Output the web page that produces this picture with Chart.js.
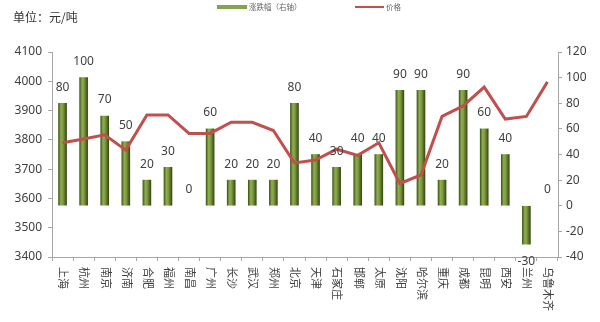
<!DOCTYPE html>
<html>
<head>
<meta charset="utf-8">
<script src="https://cdn.jsdelivr.net/npm/chart.js@4/dist/chart.umd.min.js"></script>
<style>
  html, body { margin: 0; padding: 0; background: #fff; }
  #wrap { position: relative; width: 600px; height: 322px; overflow: hidden; }
  #c { position: absolute; left: 0; top: 0; }
  .txt { position: absolute; white-space: nowrap; font-family: "Noto Sans CJK SC", "Noto Sans", sans-serif; }
  #unit { left: 13px; top: 9px; font-size: 12px; line-height: 16px; color: #333; }
  .sw { position: absolute; }
  .lg { font-size: 7.5px; line-height: 10px; color: #666; top: 2px; }
</style>
</head>
<body>
<div id="wrap">
  <canvas id="c" width="600" height="322"></canvas>
  <div id="unit" class="txt">单位：元/吨</div>
  <div class="sw" style="left:217px;top:5px;width:30px;height:4px;background:#86a24a;"></div>
  <div class="txt lg" style="left:249px;">涨跌幅（右轴）</div>
  <div class="sw" style="left:355px;top:6px;width:29px;height:2px;background:#c0504d;"></div>
  <div class="txt lg" style="left:386px;">价格</div>
</div>
<script>
const categories = ['上海','杭州','南京','济南','合肥','福州','南昌','广州','长沙','武汉','郑州','北京','天津','石家庄','邯郸','太原','沈阳','哈尔滨','重庆','成都','昆明','西安','兰州','乌鲁木齐'];
const changeValues = [80,100,70,50,20,30,0,60,20,20,20,80,40,30,40,40,90,90,20,90,60,40,-30,0];
const priceValues = [3790,3803,3817,3765,3885,3885,3822,3822,3860,3860,3832,3721,3731,3768,3747,3790,3651,3680,3880,3916,3980,3871,3880,3998];
const changeLabel = '涨跌幅（右轴）';
const priceLabel = '价格';

const TEXT = '#404040';
const AXIS = '#a6a6a6';

function barGradient(c) {
  const chart = c.chart;
  if (c.dataIndex !== undefined && changeValues[c.dataIndex] === 0) return 'rgba(0,0,0,0)';
  const xs = chart.scales && chart.scales.x;
  if (!xs || c.dataIndex === undefined) return '#76923c';
  const x = xs.getPixelForValue(c.dataIndex);
  if (!isFinite(x)) return '#76923c';
  const w = 8;
  const g = chart.ctx.createLinearGradient(x - w / 2, 0, x + w / 2, 0);
  g.addColorStop(0, '#44591a');
  g.addColorStop(0.3, '#8fae50');
  g.addColorStop(0.55, '#7e9c40');
  g.addColorStop(1, '#364a12');
  return g;
}

const valueLabels = {
  id: 'valueLabels',
  afterDatasetsDraw(chart) {
    const meta = chart.getDatasetMeta(1);
    const ctx = chart.ctx;
    ctx.save();
    ctx.font = '12px "Noto Sans", "DejaVu Sans", sans-serif';
    ctx.fillStyle = TEXT;
    ctx.textAlign = 'center';
    ctx.textBaseline = 'middle';
    meta.data.forEach((el, i) => {
      const v = changeValues[i];
      const y = v < 0 ? el.y + 17 : el.y - 16;
      ctx.fillText(String(v), el.x, y);
    });
    ctx.restore();
  }
};

const xLabels = {
  id: 'xLabels',
  afterDraw(chart) {
    const xs = chart.scales.x;
    const ctx = chart.ctx;
    ctx.save();
    ctx.font = '11px "Noto Sans CJK SC", sans-serif';
    ctx.fillStyle = TEXT;
    ctx.textAlign = 'left';
    ctx.textBaseline = 'middle';
    categories.forEach((lab, i) => {
      const x = xs.getPixelForValue(i);
      ctx.save();
      ctx.translate(x + 1, xs.top + 10);
      ctx.rotate(Math.PI / 2);
      ctx.fillText(lab, 0, 0);
      ctx.restore();
    });
    ctx.restore();
  }
};

new Chart(document.getElementById('c'), {
  data: {
    labels: categories,
    datasets: [
      {
        type: 'line',
        label: priceLabel,
        data: priceValues,
        yAxisID: 'y',
        borderColor: '#c0504d',
        borderWidth: 3,
        pointRadius: 0,
        tension: 0,
        order: 0
      },
      {
        type: 'bar',
        label: changeLabel,
        data: changeValues,
        yAxisID: 'y1',
        backgroundColor: barGradient,
        borderWidth: 0,
        barThickness: 8,
        order: 1
      }
    ]
  },
  options: {
    responsive: false,
    animation: false,
    devicePixelRatio: 1,
    layout: { padding: { left: 0, right: 0, top: 52, bottom: 0 } },
    plugins: { legend: { display: false }, tooltip: { enabled: false } },
    scales: {
      x: {
        type: 'category',
        offset: true,
        grid: { display: true, offset: true, drawOnChartArea: false, drawTicks: true, tickLength: 4, color: AXIS },
        border: { display: true, color: AXIS, width: 1 },
        ticks: { display: false },
        afterFit(s) { s.height = 65; }
      },
      y: {
        position: 'left',
        min: 3400, max: 4100,
        ticks: { stepSize: 100, color: TEXT, padding: 6, font: { size: 12, family: '"Noto Sans", sans-serif' }, callback: (v) => String(v) },
        grid: { drawOnChartArea: false, drawTicks: true, tickLength: 4, color: AXIS },
        border: { display: true, color: AXIS, width: 1 },
        afterFit(s) { s.width = 52; }
      },
      y1: {
        position: 'right',
        min: -40, max: 120,
        ticks: { stepSize: 20, color: TEXT, padding: 4, font: { size: 12, family: '"Noto Sans", sans-serif' }, callback: (v) => String(v) },
        grid: { drawOnChartArea: false, drawTicks: true, tickLength: 4, color: AXIS },
        border: { display: true, color: AXIS, width: 1 },
        afterFit(s) { s.width = 42; }
      }
    }
  },
  plugins: [valueLabels, xLabels]
});
</script>
</body>
</html>
